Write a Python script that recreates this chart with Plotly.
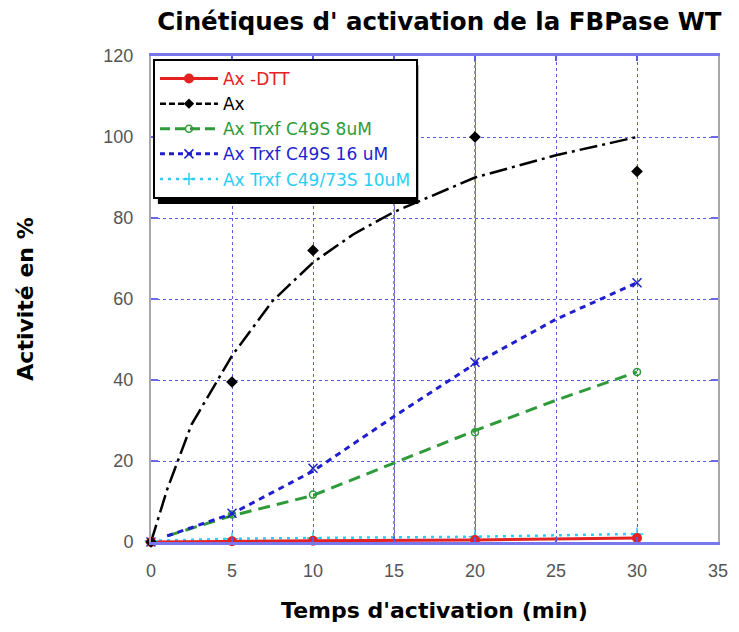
import plotly.graph_objects as go

# ---- data ----
time_pts = [0, 5, 10, 20, 30]
ax_dtt = [0, 0.2, 0.3, 0.5, 1.0]
ax = [0, 39.5, 72, 100, 91.5]
trxf_c49s_8 = [0, 6.8, 11.7, 27.1, 42]
trxf_c49s_16 = [0, 7.1, 18.2, 44.4, 64]
trxf_c4973s_10 = [0.3, 0.8, 1.0, 1.3, 2.0]

fit_t_ax = [0, 1, 2.5, 5, 7.5, 10, 12.5, 15, 20, 25, 30]
ax_fit = [0, 13, 29, 46, 59.5, 69, 76, 81.5, 90, 95.5, 100]
fit_t = [1, 5, 10, 15, 20, 25, 30]
trxf8_fit = [1.5, 6.5, 11.5, 19.5, 27.5, 35, 42]
trxf16_fit = [1.5, 7, 17.5, 31, 44, 55, 64]

names = ["Ax -DTT", "Ax", "Ax Trxf C49S 8uM", "Ax Trxf C49S 16 uM", "Ax Trxf C49/73S 10uM"]

RED = "#e52222"
BLACK = "#000000"
GREEN = "#2e9a3a"
BLUE = "#1f1fd0"
CYAN = "#2ccdf5"
GRID = "#5a5ae0"

fig = go.Figure()

# fitted / connecting lines
fig.add_trace(go.Scatter(x=fit_t_ax, y=ax_fit, mode="lines", showlegend=False,
                         line=dict(color=BLACK, width=2.5, dash="18px,5px,3px,5px"), cliponaxis=False))
fig.add_trace(go.Scatter(x=fit_t, y=trxf8_fit, mode="lines", showlegend=False,
                         line=dict(color=GREEN, width=3, dash="12px,7px"), cliponaxis=False))
fig.add_trace(go.Scatter(x=fit_t, y=trxf16_fit, mode="lines", showlegend=False,
                         line=dict(color=BLUE, width=3, dash="6px,5px"), cliponaxis=False))
fig.add_trace(go.Scatter(x=time_pts, y=trxf_c4973s_10, mode="lines", showlegend=False,
                         line=dict(color=CYAN, width=2.5, dash="3px,5px"), cliponaxis=False))
fig.add_trace(go.Scatter(x=time_pts, y=ax_dtt, mode="lines", showlegend=False,
                         line=dict(color=RED, width=3), cliponaxis=False))

# markers
fig.add_trace(go.Scatter(x=time_pts, y=trxf_c49s_8, mode="markers", showlegend=False,
                         marker=dict(symbol="circle-open", size=7, color=GREEN, line=dict(width=1.5)), cliponaxis=False))
fig.add_trace(go.Scatter(x=time_pts, y=trxf_c49s_16, mode="markers", showlegend=False,
                         marker=dict(symbol="x-thin-open", size=9, color=BLUE, line=dict(width=1.5, color=BLUE)), cliponaxis=False))
fig.add_trace(go.Scatter(x=time_pts, y=trxf_c4973s_10, mode="markers", showlegend=False,
                         marker=dict(symbol="cross-thin-open", size=9, color=CYAN, line=dict(width=1.5, color=CYAN)), cliponaxis=False))
fig.add_trace(go.Scatter(x=time_pts, y=ax_dtt, mode="markers", showlegend=False,
                         marker=dict(symbol="circle", size=10, color=RED), cliponaxis=False))
fig.add_trace(go.Scatter(x=time_pts, y=ax, mode="markers", showlegend=False,
                         marker=dict(symbol="diamond", size=9, color=BLACK), cliponaxis=False))

# legend entries
leg_styles = [
    (RED, dict(color=RED, width=3), dict(symbol="circle", size=10, color=RED)),
    (BLACK, dict(color=BLACK, width=2.5, dash="6px,3px"), dict(symbol="diamond", size=8, color=BLACK)),
    (GREEN, dict(color=GREEN, width=3, dash="10px,5px"), dict(symbol="circle-open", size=7, color=GREEN, line=dict(width=1.5))),
    (BLUE, dict(color=BLUE, width=3, dash="5px,4px"), dict(symbol="x-thin-open", size=9, color=BLUE, line=dict(width=1.5, color=BLUE))),
    (CYAN, dict(color=CYAN, width=2.5, dash="3px,5px"), dict(symbol="cross-thin-open", size=9, color=CYAN, line=dict(width=1.5, color=CYAN))),
]
for name, (col, ln, mk) in zip(names, leg_styles):
    fig.add_trace(go.Scatter(x=[None], y=[None], mode="lines+markers",
                             name=f"<span style='color:{col}'>{name}</span>",
                             line=ln, marker=mk))

# black dotted grid lines at 15 and 20
for xv in [15, 20]:
    fig.add_shape(type="line", xref="x", yref="paper", x0=xv, x1=xv, y0=0, y1=1,
                  line=dict(color="#222222", width=1, dash="dot"), layer="below")

# legend shadow
fig.add_shape(type="rect", xref="paper", yref="paper",
              x0=(158 - 151) / 577, x1=(423 - 151) / 577,
              y0=(542 - 204) / 486, y1=(542 - 65) / 486,
              fillcolor="black", line=dict(width=0), layer="above")

fig.update_layout(
    width=739, height=632,
    margin=dict(l=151, r=11, t=56, b=90),
    paper_bgcolor="white", plot_bgcolor="white",
    title=dict(text="<b>Cinétiques d' activation de la FBPase WT</b>",
               font=dict(family="DejaVu Sans", size=24.5, color="black"),
               x=0.5 + 5 / 577, xref="paper", xanchor="center", y=1 - 21 / 632, yanchor="middle"),
    showlegend=True,
    legend=dict(x=(153 - 151) / 577, y=(542 - 59) / 486, xanchor="left", yanchor="top",
                bgcolor="white", bordercolor="black", borderwidth=2,
                font=dict(family="DejaVu Sans", size=17),
                itemwidth=58, tracegroupgap=0),
    xaxis=dict(range=[0, 35], dtick=5, tick0=0,
               showgrid=True, gridcolor=GRID, griddash="dot", gridwidth=1,
               zeroline=False, showline=True, linecolor="#7878ee", linewidth=3, mirror="ticks",
               ticks="inside", ticklen=5, tickcolor=GRID, tickwidth=1.5,
               tickfont=dict(family="Liberation Sans, Arial", size=18, color="#555555"),
               ticklabelstandoff=10,
               title=dict(text="<b>Temps d'activation (min)</b>", standoff=24,
                          font=dict(family="DejaVu Sans", size=22, color="black"))),
    yaxis=dict(range=[0, 120], dtick=20, tick0=0,
               showgrid=True, gridcolor=GRID, griddash="dot", gridwidth=1,
               zeroline=False, showline=True, linecolor="#a8a8a8", linewidth=2, mirror="ticks",
               ticks="inside", ticklen=7, tickcolor="#6a6ae8", tickwidth=2,
               tickfont=dict(family="Liberation Sans, Arial", size=18, color="#555555"),
               ticklabelstandoff=12,
               title=dict(text="<b>Activité en %</b>", standoff=64,
                          font=dict(family="DejaVu Sans", size=22, color="black"))),
)

fig.write_html("out.html")
